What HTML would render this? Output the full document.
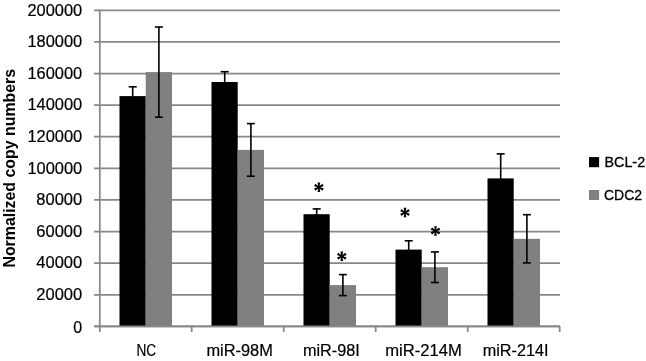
<!DOCTYPE html>
<html><head><meta charset="utf-8"><style>
html,body{margin:0;padding:0;background:#fff;}
body{width:646px;height:361px;overflow:hidden;}
svg{display:block;will-change:transform;}
.t{font-family:"Liberation Sans",sans-serif;font-size:16px;fill:#000;stroke:#000;stroke-width:0.2px;}
.x{font-family:"Liberation Sans",sans-serif;font-size:15.6px;fill:#000;stroke:#000;stroke-width:0.2px;}
.l{font-family:"Liberation Sans",sans-serif;font-size:15.3px;fill:#000;stroke:#000;stroke-width:0.3px;}
.b{font-family:"Liberation Sans",sans-serif;font-size:16px;font-weight:bold;fill:#000;}
</style></head><body>
<svg width="646" height="361" viewBox="0 0 646 361">
<rect width="646" height="361" fill="#fff"/>
<line x1="94" y1="326.40" x2="560.0" y2="326.40" stroke="#888888" stroke-width="1.75"/>
<line x1="94" y1="294.79" x2="560.0" y2="294.79" stroke="#888888" stroke-width="1.75"/>
<line x1="94" y1="263.18" x2="560.0" y2="263.18" stroke="#888888" stroke-width="1.75"/>
<line x1="94" y1="231.57" x2="560.0" y2="231.57" stroke="#888888" stroke-width="1.75"/>
<line x1="94" y1="199.96" x2="560.0" y2="199.96" stroke="#888888" stroke-width="1.75"/>
<line x1="94" y1="168.35" x2="560.0" y2="168.35" stroke="#888888" stroke-width="1.75"/>
<line x1="94" y1="136.74" x2="560.0" y2="136.74" stroke="#888888" stroke-width="1.75"/>
<line x1="94" y1="105.13" x2="560.0" y2="105.13" stroke="#888888" stroke-width="1.75"/>
<line x1="94" y1="73.52" x2="560.0" y2="73.52" stroke="#888888" stroke-width="1.75"/>
<line x1="94" y1="41.91" x2="560.0" y2="41.91" stroke="#888888" stroke-width="1.75"/>
<line x1="94" y1="10.30" x2="560.0" y2="10.30" stroke="#888888" stroke-width="1.75"/>
<rect x="119.50" y="96.10" width="26.20" height="230.30" fill="#000"/>
<rect x="145.70" y="72.10" width="26.30" height="254.30" fill="#808080"/>
<rect x="211.50" y="82.00" width="26.20" height="244.40" fill="#000"/>
<rect x="237.70" y="149.90" width="26.30" height="176.50" fill="#808080"/>
<rect x="303.50" y="214.20" width="26.20" height="112.20" fill="#000"/>
<rect x="329.70" y="285.10" width="26.30" height="41.30" fill="#808080"/>
<rect x="395.50" y="249.60" width="26.20" height="76.80" fill="#000"/>
<rect x="421.70" y="267.20" width="26.30" height="59.20" fill="#808080"/>
<rect x="487.50" y="178.40" width="26.20" height="148.00" fill="#000"/>
<rect x="513.70" y="238.80" width="26.30" height="87.60" fill="#808080"/>
<line x1="94" y1="326.40" x2="560.0" y2="326.40" stroke="#888888" stroke-width="1.75"/>
<line x1="99.8" y1="9.50" x2="99.8" y2="332" stroke="#888888" stroke-width="1.75"/>
<line x1="191.70" y1="326.40" x2="191.70" y2="332" stroke="#888888" stroke-width="1.75"/>
<line x1="283.70" y1="326.40" x2="283.70" y2="332" stroke="#888888" stroke-width="1.75"/>
<line x1="375.70" y1="326.40" x2="375.70" y2="332" stroke="#888888" stroke-width="1.75"/>
<line x1="467.70" y1="326.40" x2="467.70" y2="332" stroke="#888888" stroke-width="1.75"/>
<line x1="559.70" y1="326.40" x2="559.70" y2="332" stroke="#888888" stroke-width="1.75"/>
<line x1="132.70" y1="86.80" x2="132.70" y2="105.40" stroke="#000" stroke-width="1.6"/><line x1="128.70" y1="86.80" x2="136.70" y2="86.80" stroke="#000" stroke-width="1.6"/><line x1="128.70" y1="105.40" x2="136.70" y2="105.40" stroke="#000" stroke-width="1.6"/>
<line x1="158.90" y1="27.00" x2="158.90" y2="117.20" stroke="#000" stroke-width="1.6"/><line x1="154.90" y1="27.00" x2="162.90" y2="27.00" stroke="#000" stroke-width="1.6"/><line x1="154.90" y1="117.20" x2="162.90" y2="117.20" stroke="#000" stroke-width="1.6"/>
<line x1="224.70" y1="71.70" x2="224.70" y2="92.30" stroke="#000" stroke-width="1.6"/><line x1="220.70" y1="71.70" x2="228.70" y2="71.70" stroke="#000" stroke-width="1.6"/><line x1="220.70" y1="92.30" x2="228.70" y2="92.30" stroke="#000" stroke-width="1.6"/>
<line x1="250.90" y1="123.60" x2="250.90" y2="176.20" stroke="#000" stroke-width="1.6"/><line x1="246.90" y1="123.60" x2="254.90" y2="123.60" stroke="#000" stroke-width="1.6"/><line x1="246.90" y1="176.20" x2="254.90" y2="176.20" stroke="#000" stroke-width="1.6"/>
<line x1="316.70" y1="208.90" x2="316.70" y2="219.50" stroke="#000" stroke-width="1.6"/><line x1="312.70" y1="208.90" x2="320.70" y2="208.90" stroke="#000" stroke-width="1.6"/><line x1="312.70" y1="219.50" x2="320.70" y2="219.50" stroke="#000" stroke-width="1.6"/>
<line x1="342.90" y1="274.60" x2="342.90" y2="295.60" stroke="#000" stroke-width="1.6"/><line x1="338.90" y1="274.60" x2="346.90" y2="274.60" stroke="#000" stroke-width="1.6"/><line x1="338.90" y1="295.60" x2="346.90" y2="295.60" stroke="#000" stroke-width="1.6"/>
<line x1="408.70" y1="240.80" x2="408.70" y2="258.40" stroke="#000" stroke-width="1.6"/><line x1="404.70" y1="240.80" x2="412.70" y2="240.80" stroke="#000" stroke-width="1.6"/><line x1="404.70" y1="258.40" x2="412.70" y2="258.40" stroke="#000" stroke-width="1.6"/>
<line x1="434.90" y1="251.90" x2="434.90" y2="282.50" stroke="#000" stroke-width="1.6"/><line x1="430.90" y1="251.90" x2="438.90" y2="251.90" stroke="#000" stroke-width="1.6"/><line x1="430.90" y1="282.50" x2="438.90" y2="282.50" stroke="#000" stroke-width="1.6"/>
<line x1="500.70" y1="153.90" x2="500.70" y2="202.90" stroke="#000" stroke-width="1.6"/><line x1="496.70" y1="153.90" x2="504.70" y2="153.90" stroke="#000" stroke-width="1.6"/><line x1="496.70" y1="202.90" x2="504.70" y2="202.90" stroke="#000" stroke-width="1.6"/>
<line x1="526.90" y1="214.70" x2="526.90" y2="262.90" stroke="#000" stroke-width="1.6"/><line x1="522.90" y1="214.70" x2="530.90" y2="214.70" stroke="#000" stroke-width="1.6"/><line x1="522.90" y1="262.90" x2="530.90" y2="262.90" stroke="#000" stroke-width="1.6"/>
<path d="M319.40,187.30L320.25,182.50L317.55,182.50L318.40,187.30ZM319.15,186.87L315.42,183.73L314.07,186.07L318.65,187.73ZM318.65,186.87L314.07,188.53L315.42,190.87L319.15,187.73ZM318.40,187.30L317.55,192.10L320.25,192.10L319.40,187.30ZM318.65,187.73L322.38,190.87L323.73,188.53L319.15,186.87ZM319.15,187.73L323.73,186.07L322.38,183.73L318.65,186.87Z" fill="#000"/><circle cx="318.9" cy="187.3" r="1.3" fill="#000"/>
<path d="M342.30,256.30L343.15,251.50L340.45,251.50L341.30,256.30ZM342.05,255.87L338.32,252.73L336.97,255.07L341.55,256.73ZM341.55,255.87L336.97,257.53L338.32,259.87L342.05,256.73ZM341.30,256.30L340.45,261.10L343.15,261.10L342.30,256.30ZM341.55,256.73L345.28,259.87L346.63,257.53L342.05,255.87ZM342.05,256.73L346.63,255.07L345.28,252.73L341.55,255.87Z" fill="#000"/><circle cx="341.8" cy="256.3" r="1.3" fill="#000"/>
<path d="M405.50,212.50L406.35,207.70L403.65,207.70L404.50,212.50ZM405.25,212.07L401.52,208.93L400.17,211.27L404.75,212.93ZM404.75,212.07L400.17,213.73L401.52,216.07L405.25,212.93ZM404.50,212.50L403.65,217.30L406.35,217.30L405.50,212.50ZM404.75,212.93L408.48,216.07L409.83,213.73L405.25,212.07ZM405.25,212.93L409.83,211.27L408.48,208.93L404.75,212.07Z" fill="#000"/><circle cx="405.0" cy="212.5" r="1.3" fill="#000"/>
<path d="M436.00,231.00L436.85,226.20L434.15,226.20L435.00,231.00ZM435.75,230.57L432.02,227.43L430.67,229.77L435.25,231.43ZM435.25,230.57L430.67,232.23L432.02,234.57L435.75,231.43ZM435.00,231.00L434.15,235.80L436.85,235.80L436.00,231.00ZM435.25,231.43L438.98,234.57L440.33,232.23L435.75,230.57ZM435.75,231.43L440.33,229.77L438.98,227.43L435.25,230.57Z" fill="#000"/><circle cx="435.5" cy="231.0" r="1.3" fill="#000"/>
<text x="82.2" y="332.60" text-anchor="end" class="t" textLength="8.9" lengthAdjust="spacingAndGlyphs">0</text>
<text x="82.2" y="299.99" text-anchor="end" class="t" textLength="45.9" lengthAdjust="spacingAndGlyphs">20000</text>
<text x="82.2" y="268.38" text-anchor="end" class="t" textLength="45.9" lengthAdjust="spacingAndGlyphs">40000</text>
<text x="82.2" y="236.77" text-anchor="end" class="t" textLength="45.9" lengthAdjust="spacingAndGlyphs">60000</text>
<text x="82.2" y="205.16" text-anchor="end" class="t" textLength="45.9" lengthAdjust="spacingAndGlyphs">80000</text>
<text x="82.2" y="173.55" text-anchor="end" class="t" textLength="54.8" lengthAdjust="spacingAndGlyphs">100000</text>
<text x="82.2" y="141.94" text-anchor="end" class="t" textLength="54.8" lengthAdjust="spacingAndGlyphs">120000</text>
<text x="82.2" y="110.33" text-anchor="end" class="t" textLength="54.8" lengthAdjust="spacingAndGlyphs">140000</text>
<text x="82.2" y="78.72" text-anchor="end" class="t" textLength="54.8" lengthAdjust="spacingAndGlyphs">160000</text>
<text x="82.2" y="47.11" text-anchor="end" class="t" textLength="54.8" lengthAdjust="spacingAndGlyphs">180000</text>
<text x="82.2" y="15.50" text-anchor="end" class="t" textLength="54.8" lengthAdjust="spacingAndGlyphs">200000</text>
<text x="136.40" y="356.0" class="x" textLength="19.7" lengthAdjust="spacingAndGlyphs">NC</text>
<text x="206.40" y="356.0" class="x" textLength="66.4" lengthAdjust="spacingAndGlyphs">miR-98M</text>
<text x="302.95" y="356.0" class="x" textLength="56.9" lengthAdjust="spacingAndGlyphs">miR-98I</text>
<text x="385.20" y="356.0" class="x" textLength="76.6" lengthAdjust="spacingAndGlyphs">miR-214M</text>
<text x="482.70" y="356.0" class="x" textLength="65.8" lengthAdjust="spacingAndGlyphs">miR-214I</text>
<text transform="translate(14.5,267.6) rotate(-90)" class="b" textLength="198.7" lengthAdjust="spacingAndGlyphs">Normalized copy numbers</text>
<rect x="589" y="157.1" width="10.1" height="10.1" fill="#000"/>
<rect x="589" y="190" width="10.1" height="10" fill="#808080"/>
<text x="604.5" y="167.1" class="l" textLength="40.6" lengthAdjust="spacingAndGlyphs">BCL-2</text>
<text x="604.0" y="199.7" class="l" textLength="38.1" lengthAdjust="spacingAndGlyphs">CDC2</text>
</svg>
</body></html>
